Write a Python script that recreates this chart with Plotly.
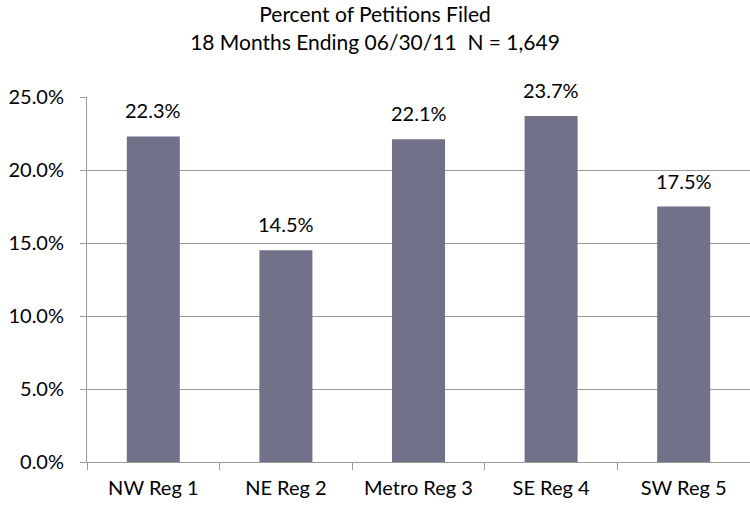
import plotly.graph_objects as go

regions = ["NW Reg 1", "NE Reg 2", "Metro Reg 3", "SE Reg 4", "SW Reg 5"]
percent_filed = [22.3, 14.5, 22.1, 23.7, 17.5]
y_ticks = [0, 5, 10, 15, 20, 25]
y_tick_labels = ["0.0%", "5.0%", "10.0%", "15.0%", "20.0%", "25.0%"]

FONT = "Lato, Open Sans, sans-serif"
BAR_COLOR = "#71718A"
GRID = "#9A9A9A"
FS = 20

fig = go.Figure(
    go.Bar(
        x=regions,
        y=percent_filed,
        marker=dict(color=BAR_COLOR, line=dict(width=0)),
        hoverinfo="skip",
    )
)

for r, v in zip(regions, percent_filed):
    fig.add_annotation(
        x=r, y=v, text=f"{v:.1f}%", showarrow=False,
        yanchor="bottom", yshift=12,
        font=dict(family=FONT, size=FS, color="#000"),
    )

fig.update_layout(
    width=750, height=510,
    margin=dict(l=87, r=0, t=97, b=48),
    paper_bgcolor="white", plot_bgcolor="white",
    bargap=0.6,
    showlegend=False,
    title=dict(
        text="Percent of Petitions Filed<br>18 Months Ending 06/30/11  N = 1,649",
        x=0.5, xanchor="center", xref="container",
        y=0.956, yanchor="top", yref="container",
        pad=dict(t=0),
        font=dict(family=FONT, size=21, color="#000"),
    ),
    font=dict(family=FONT, size=FS, color="#000"),
)

fig.update_xaxes(
    showline=True, linecolor=GRID, linewidth=1,
    ticks="outside", tickson="boundaries", ticklen=7, tickcolor=GRID,
    showgrid=False,
    ticklabelstandoff=8,
    tickfont=dict(family=FONT, size=FS, color="#000"),
)
fig.update_yaxes(
    range=[0, 25], tickvals=y_ticks, ticktext=y_tick_labels,
    showline=True, linecolor=GRID, linewidth=1,
    ticks="outside", ticklen=6, tickcolor=GRID,
    showgrid=True, gridcolor=GRID, gridwidth=1,
    zeroline=False,
    ticklabelstandoff=12,
    tickfont=dict(family=FONT, size=FS, color="#000"),
)

fig.write_html("out.html")
